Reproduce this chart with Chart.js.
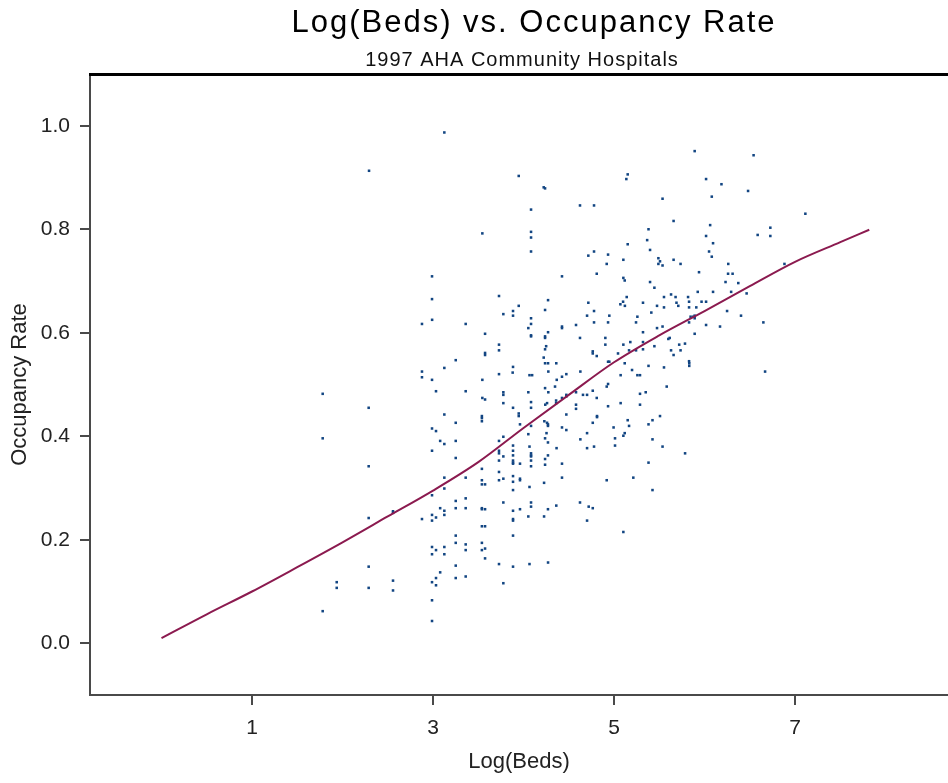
<!DOCTYPE html>
<html>
<head>
<meta charset="utf-8">
<title>Log(Beds) vs. Occupancy Rate</title>
<script src="https://cdn.jsdelivr.net/npm/chart.js@4.4.1/dist/chart.umd.min.js"></script>
<style>
  html, body { margin: 0; padding: 0; background: #fff; }
  #wrap { width: 948px; height: 783px; }
</style>
</head>
<body>
<div id="wrap"><canvas id="occChart" width="948" height="783"></canvas></div>
<script>
// hospitals: log(beds) and occupancy rate
var logBeds = [
  3.125, 2.293, 3.545, 2.989, 2.989, 3.729, 2.99, 2.878, 3.361, 3.575, 3.729, 3.729, 3.575, 3.575, 3.251, 3.125,
  2.878, 2.878, 2.989, 3.729, 3.545, 1.781, 3.033, 3.361, 3.545, 3.575, 2.289, 3.125, 3.54, 3.54, 3.54, 3.251,
  2.989, 3.033, 1.781, 3.079, 3.125, 3.251, 3.729, 2.989, 3.729, 3.729, 3.251, 3.729, 2.289, 3.54, 3.729, 3.125,
  3.361, 3.54, 3.54, 3.575, 3.729, 3.125, 2.989, 3.251, 3.361, 2.558, 2.558, 3.079, 3.125, 3.125, 3.251, 3.361,
  3.54, 3.54, 3.575, 2.989, 2.989, 3.033, 2.878, 2.289, 3.54, 3.575, 3.251, 3.251, 3.361, 3.54, 2.989, 3.033,
  3.125, 3.125, 2.989, 3.361, 3.54, 3.575, 3.575, 3.729, 2.289, 3.251, 3.079, 3.033, 2.989, 3.033, 3.251, 3.361,
  1.936, 1.936, 2.289, 2.558, 2.558, 2.989, 1.781, 2.989,
  3.947, 4.223, 4.238, 5.151, 5.136, 4.083, 4.624, 4.779, 5.536, 5.658, 4.083, 4.083, 4.083, 5.381, 5.366, 5.151,
  5.398, 4.716, 4.779, 4.934, 4.919, 5.103, 5.49, 5.508, 5.49, 5.536, 5.658, 5.735, 4.809, 4.425, 5.103, 5.118,
  5.398, 5.446, 4.271, 3.947, 3.777, 3.884, 3.884, 4.238, 4.716, 4.779, 4.702, 4.948, 5.07, 5.10, 5.12, 5.14,
  5.32, 5.412, 5.475, 5.552, 5.552, 5.63, 5.68, 5.69, 5.71, 5.818, 5.829, 5.829, 4.083, 4.083, 4.053, 4.083,
  4.083, 4.271, 4.238, 4.238, 4.25, 4.238, 4.223, 4.238, 4.271, 4.362, 4.425, 4.425, 4.58, 4.624, 4.779, 4.934,
  4.904, 4.904, 4.765, 4.765, 4.809, 4.934, 4.948, 3.884, 5.044, 5.103, 5.18, 5.118, 5.166, 5.243, 5.258, 5.243,
  5.32, 5.32, 5.32, 5.381, 5.446, 5.475, 5.536, 5.60, 5.615, 5.552, 5.63, 5.658, 5.72, 5.735, 5.784, 5.829, 5.829,
  5.891, 6.542, 6.017, 6.187, 6.481, 6.08, 7.114, 6.062, 6.017, 6.727, 6.727, 6.587, 6.094, 6.05, 6.08, 6.262,
  5.939, 6.26, 6.31, 6.883, 6.232, 6.373, 5.925, 6.094, 6.294, 6.465, 5.967, 6.017, 5.909, 6.249, 6.403, 5.846,
  5.876, 5.891, 5.891, 6.017, 6.171, 6.65, 5.891, 5.831, 5.831,
  3.88, 4.066, 4.095, 4.274, 4.425, 4.473, 4.367, 4.628, 5.073, 5.199, 5.258, 5.287, 5.582, 4.238, 4.348, 4.919,
  4.934, 4.765, 4.657, 4.702, 4.58, 4.473, 4.473, 4.425, 4.274, 4.053, 3.777, 3.777, 4.809, 5.287, 5.35, 5.073,
  5.287, 3.777, 4.083, 4.083, 3.884, 4.24, 4.26, 4.36, 4.36, 4.58, 4.58, 4.934, 3.947, 3.947, 4.473, 4.812,
  4.812, 5.151, 5.425, 5.508, 4.23, 4.26, 4.27, 4.27, 3.961, 4.083, 4.765, 5.381, 5.166, 4.995, 4.425, 4.473,
  3.777, 4.053, 4.254, 4.238, 4.27, 4.702, 4.628, 5.011, 5.103, 5.118, 5.425, 5.011, 4.779, 4.702, 4.365, 4.066,
  3.884, 3.884, 3.884, 3.777, 3.884, 3.884, 3.884, 3.961, 4.083, 4.083, 4.083, 4.083, 4.083, 4.27, 4.238, 4.238,
  4.425, 5.536, 5.785, 5.381, 3.777, 3.884, 3.884, 3.961, 3.961, 4.227, 4.425, 4.919, 5.213, 4.066, 3.884, 5.425,
  3.777, 4.083, 4.083, 3.961, 3.884, 4.27, 4.362, 4.624, 4.72, 4.765, 3.884, 3.884, 4.053, 4.227, 4.702, 3.884,
  5.103, 3.884, 4.066, 4.271, 3.777, 6.669
];
var occRate = [
  0.987, 0.913, 0.792, 0.709, 0.665, 0.671, 0.625, 0.617, 0.617, 0.598, 0.577, 0.566, 0.557, 0.561, 0.547, 0.532,
  0.525, 0.514, 0.509, 0.520, 0.509, 0.482, 0.487, 0.487, 0.474, 0.471, 0.455, 0.442, 0.439, 0.435, 0.429, 0.426,
  0.415, 0.410, 0.396, 0.391, 0.385, 0.391, 0.391, 0.372, 0.372, 0.367, 0.358, 0.353, 0.342, 0.337, 0.331, 0.320,
  0.320, 0.315, 0.307, 0.307, 0.315, 0.299, 0.286, 0.275, 0.280, 0.255, 0.252, 0.261, 0.256, 0.248, 0.261, 0.261,
  0.261, 0.259, 0.259, 0.248, 0.237, 0.243, 0.240, 0.242, 0.226, 0.226, 0.208, 0.194, 0.191, 0.194, 0.186, 0.180,
  0.186, 0.172, 0.172, 0.180, 0.180, 0.183, 0.164, 0.153, 0.148, 0.150, 0.137, 0.126, 0.118, 0.112, 0.126, 0.129,
  0.118, 0.107, 0.107, 0.121, 0.102, 0.083, 0.062, 0.043,
  0.903, 0.881, 0.879, 0.906, 0.897, 0.838, 0.846, 0.846, 0.859, 0.816, 0.795, 0.784, 0.757, 0.800, 0.779, 0.771,
  0.760, 0.749, 0.757, 0.751, 0.733, 0.741, 0.744, 0.738, 0.733, 0.730, 0.741, 0.733, 0.714, 0.709, 0.706, 0.701,
  0.698, 0.687, 0.663, 0.652, 0.636, 0.642, 0.633, 0.644, 0.658, 0.642, 0.633, 0.633, 0.655, 0.660, 0.652, 0.669,
  0.658, 0.639, 0.652, 0.669, 0.649, 0.674, 0.669, 0.658, 0.652, 0.669, 0.660, 0.649, 0.628, 0.617, 0.609, 0.595,
  0.593, 0.601, 0.593, 0.590, 0.574, 0.568, 0.552, 0.541, 0.541, 0.541, 0.612, 0.609, 0.615, 0.590, 0.620, 0.620,
  0.590, 0.577, 0.564, 0.560, 0.555, 0.544, 0.544, 0.534, 0.560, 0.577, 0.582, 0.541, 0.566, 0.566, 0.631, 0.620,
  0.601, 0.582, 0.568, 0.536, 0.574, 0.609, 0.612, 0.588, 0.590, 0.533, 0.566, 0.557, 0.577, 0.566, 0.579, 0.620, 0.545,
  0.951, 0.943, 0.897, 0.887, 0.874, 0.863, 0.830, 0.808, 0.787, 0.803, 0.787, 0.789, 0.773, 0.757, 0.747, 0.733,
  0.717, 0.714, 0.714, 0.733, 0.698, 0.696, 0.679, 0.679, 0.679, 0.676, 0.660, 0.660, 0.649, 0.642, 0.633, 0.631,
  0.631, 0.628, 0.633, 0.615, 0.612, 0.620, 0.598, 0.541, 0.536,
  0.523, 0.518, 0.518, 0.525, 0.515, 0.520, 0.509, 0.525, 0.518, 0.528, 0.518, 0.518, 0.496, 0.493, 0.496, 0.496,
  0.501, 0.488, 0.480, 0.480, 0.485, 0.480, 0.477, 0.474, 0.485, 0.485, 0.485, 0.480, 0.474, 0.482, 0.485, 0.464,
  0.461, 0.464, 0.466, 0.455, 0.455, 0.461, 0.464, 0.469, 0.464, 0.461, 0.453, 0.458, 0.444, 0.439, 0.442, 0.439,
  0.437, 0.431, 0.431, 0.439, 0.429, 0.426, 0.423, 0.420, 0.423, 0.420, 0.426, 0.423, 0.420, 0.417, 0.417, 0.412,
  0.399, 0.404, 0.406, 0.396, 0.388, 0.406, 0.394, 0.396, 0.401, 0.406, 0.394, 0.382, 0.380, 0.377, 0.377, 0.380,
  0.382, 0.372, 0.363, 0.361, 0.353, 0.349, 0.347, 0.347, 0.367, 0.363, 0.361, 0.353, 0.342, 0.363, 0.356, 0.345,
  0.347, 0.380, 0.367, 0.349, 0.318, 0.323, 0.312, 0.318, 0.315, 0.310, 0.320, 0.315, 0.320, 0.302, 0.296, 0.296,
  0.272, 0.272, 0.264, 0.259, 0.256, 0.259, 0.266, 0.272, 0.264, 0.261, 0.240, 0.237, 0.245, 0.245, 0.237, 0.208,
  0.215, 0.148, 0.153, 0.156, 0.116, 0.525
];

// smoothed (loess) curve
var loessX = [0.0, 0.5, 1.0, 1.5, 2.0, 2.5, 3.0, 3.5, 4.0, 4.5, 5.0, 5.5, 6.0, 6.5, 7.0, 7.5, 7.82];
var loessY = [0.010, 0.056, 0.100, 0.147, 0.195, 0.245, 0.295, 0.350, 0.416, 0.480, 0.543, 0.595, 0.642, 0.690, 0.737, 0.775, 0.799];

var xTicks = [1, 3, 5, 7];
var yTicks = [0.0, 0.2, 0.4, 0.6, 0.8, 1.0];

var titleText = 'Log(Beds) vs. Occupancy Rate';
var subtitleText = '1997 AHA Community Hospitals';

var points = logBeds.map(function (x, i) { return { x: x, y: occRate[i] }; });
var loessPoints = loessX.map(function (x, i) { return { x: x, y: loessY[i] }; });

Chart.defaults.font.family = "'Liberation Sans', Arial, sans-serif";
Chart.defaults.color = '#222';

var axisColor = '#4a4a4a';

// the old chart centres its headings over the plot and spaces the letters out a bit
var headingPlugin = {
    id: 'headingPlugin',
    afterLayout: function (chart) {
        chart.boxes.forEach(function (box) {
            if (!box.options || box.options.text === undefined) return;
            var spacing = '0px';
            if (box.options.text === titleText) { box.left = 120; spacing = '2px'; }
            if (box.options.text === subtitleText) { box.left = 96; spacing = '1px'; }
            if (!box._spaced) {
                var orig = box.draw;
                box.draw = function () {
                    var c = this.ctx;
                    c.save();
                    c.letterSpacing = spacing;
                    orig.apply(this, arguments);
                    c.restore();
                };
                box._spaced = true;
            }
        });
    }
};

var ctx = document.getElementById('occChart').getContext('2d');
var occChart = new Chart(ctx, {
    type: 'scatter',
    data: {
        datasets: [{
            label: 'Hospitals',
            data: points,
            pointStyle: 'rect',
            pointRadius: 1.8,
            pointBorderWidth: 0,
            backgroundColor: '#124582',
            borderColor: '#124582',
            order: 2
        }, {
            type: 'line',
            label: 'Loess',
            data: loessPoints,
            borderColor: '#8b1a4f',
            borderWidth: 2,
            pointRadius: 0,
            cubicInterpolationMode: 'monotone',
            fill: false,
            order: 1
        }]
    },
    plugins: [headingPlugin],
    options: {
        responsive: false,
        animation: false,
        layout: { padding: 0, autoPadding: false },
        plugins: {
            legend: { display: false },
            tooltip: { enabled: false },
            title: {
                display: true,
                text: titleText,
                color: '#000',
                font: { size: 31, weight: 'normal' },
                padding: { top: 5, bottom: 0 }
            },
            subtitle: {
                display: true,
                text: subtitleText,
                color: '#111',
                font: { size: 20, weight: 'normal' },
                padding: { top: 6.3, bottom: 1.5 }
            }
        },
        scales: {
            x: {
                type: 'linear',
                position: 'bottom',
                min: -0.79,
                max: 8.69,
                afterBuildTicks: function (axis) {
                    axis.ticks = xTicks.map(function (v) { return { value: v }; });
                },
                afterFit: function (scale) { scale.height = 88; },
                ticks: { font: { size: 21 }, padding: 11, maxRotation: 0 },
                grid: { display: true, drawOnChartArea: false, drawTicks: true, tickLength: 10, color: axisColor, lineWidth: 2 },
                border: { display: true, color: axisColor, width: 2 },
                title: { display: true, text: 'Log(Beds)', font: { size: 22 }, padding: { top: 0, bottom: 8 } }
            },
            y: {
                type: 'linear',
                position: 'left',
                min: -0.1,
                max: 1.1,
                afterBuildTicks: function (axis) {
                    axis.ticks = yTicks.map(function (v) { return { value: v }; });
                },
                afterFit: function (scale) { scale.width = 90; },
                ticks: {
                    font: { size: 21 },
                    padding: 10,
                    callback: function (v) { return v.toFixed(1); }
                },
                grid: { display: true, drawOnChartArea: false, drawTicks: true, tickLength: 10, color: axisColor, lineWidth: 2 },
                border: { display: true, color: axisColor, width: 2 },
                title: { display: true, text: 'Occupancy Rate', font: { size: 22 }, padding: { top: 7, bottom: 0 } }
            },
            xTop: {
                type: 'linear',
                axis: 'x',
                position: 'top',
                min: -0.79,
                max: 8.69,
                afterFit: function (scale) { scale.height = 0; },
                ticks: { display: false },
                grid: { display: false, drawTicks: false },
                border: { display: true, color: '#000', width: 3 }
            }
        }
    }
});
</script>
</body>
</html>
